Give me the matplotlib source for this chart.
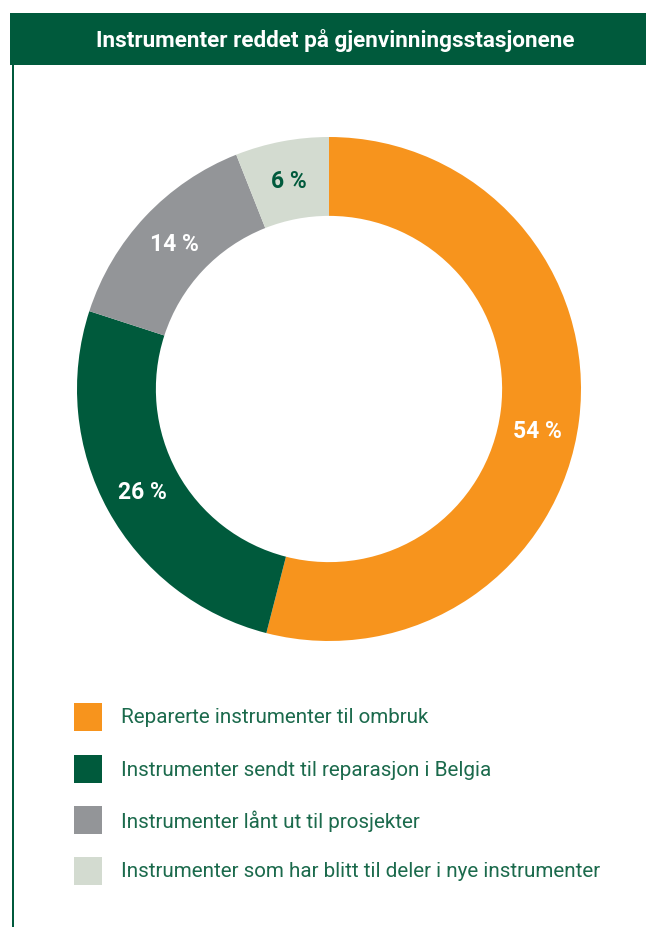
import matplotlib
matplotlib.use("Agg")
import matplotlib.pyplot as plt
from matplotlib.patches import Rectangle
import numpy as np

title = "Instrumenter reddet på gjenvinningsstasjonene"
categories = [
    "Reparerte instrumenter til ombruk",
    "Instrumenter sendt til reparasjon i Belgia",
    "Instrumenter lånt ut til prosjekter",
    "Instrumenter som har blitt til deler i nye instrumenter",
]
values = [54, 26, 14, 6]
labels = ["54 %", "26 %", "14 %", "6 %"]
colors = ["#F7941D", "#005A3C", "#939598", "#D3DBD0"]
label_colors = ["white", "white", "white", "#005A3C"]

W, H = 646, 928
fig = plt.figure(figsize=(W / 100, H / 100), dpi=100)
fig.patch.set_facecolor("white")

def fx(x):
    return x / W

def fy(y):
    return 1 - y / H

font = ["Roboto", "DejaVu Sans"]
green = "#005A3C"
text_green = "#1B6A4C"

# header
fig.patches.append(Rectangle((fx(10), fy(66)), fx(646) - fx(10), (66 - 14) / H,
                             transform=fig.transFigure, facecolor=green, edgecolor="none"))
# left border
fig.patches.append(Rectangle((fx(11.5), fy(928)), 2.2 / W, (928 - 66) / H,
                             transform=fig.transFigure, facecolor=green, edgecolor="none"))
fig.text(fx(335), fy(41), title, color="white", fontsize=16.2, fontweight="bold",
         family=font, ha="center", va="center")

# donut
cx, cy, R = 329, 390, 252
ax = fig.add_axes([fx(cx - R), fy(cy + R), 2 * R / W, 2 * R / H])
ring = 0.313
wedges, _ = ax.pie(values, colors=colors, startangle=90, counterclock=False, radius=1,
                   wedgeprops=dict(width=ring, edgecolor="none"))
ax.set_xlim(-1, 1)
ax.set_ylim(-1, 1)
ax.set_aspect("equal")
ax.axis("off")

total = sum(values)
cum = 0
r_lab = 0.843
angle_shift = [-4, 0, 0, 0]
for v, lab, lc, sh in zip(values, labels, label_colors, angle_shift):
    mid = 90 - (cum + v / 2) / total * 360 + sh
    cum += v
    ang = np.deg2rad(mid)
    ax.text(r_lab * np.cos(ang), r_lab * np.sin(ang), lab, color=lc, fontsize=16.5,
            fontweight="bold", family=font, ha="center", va="center")

# legend
rows_y = [718, 770, 821, 872]
for yy, cat, col in zip(rows_y, categories, colors):
    fig.patches.append(Rectangle((fx(74), fy(yy + 14)), 28 / W, 28 / H,
                                 transform=fig.transFigure, facecolor=col, edgecolor="none"))
    fig.text(fx(121), fy(yy), cat, color=text_green, fontsize=14.9, family=font,
             ha="left", va="center")

fig.savefig("out.png", dpi=100)
